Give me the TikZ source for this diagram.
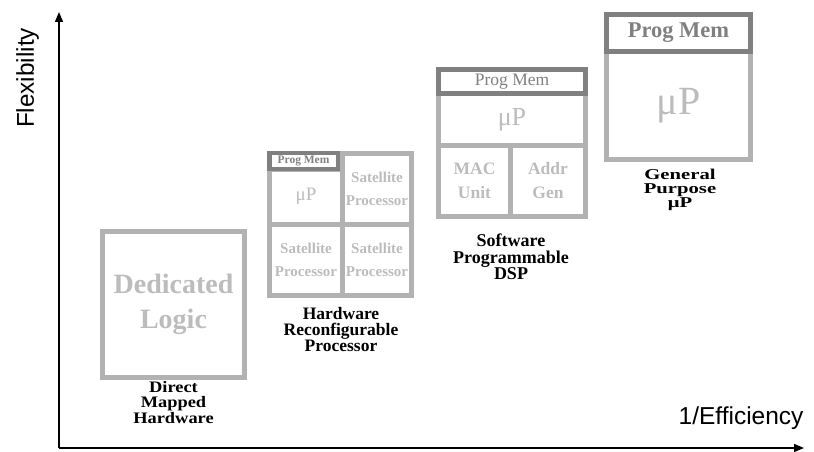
\documentclass[tikz,border=0pt]{standalone}
\usepackage{fontspec}
\setmainfont{Liberation Serif}
\newfontfamily\axisfont{Liberation Sans}
\usetikzlibrary{arrows.meta,positioning}
\definecolor{lgray}{RGB}{178,178,178}
\definecolor{tgray}{RGB}{188,188,188}
\definecolor{dgray}{RGB}{128,128,128}

\begin{document}
\begin{tikzpicture}[x=1pt,y=-1pt,>={Triangle[length=10pt,width=8pt]},
  cell/.style={draw=lgray,line width=5pt,inner sep=0pt,text=tgray,align=center},
  bar/.style={draw=dgray,line width=5pt,inner sep=0pt,text=dgray},
  lbl/.style={inner sep=0pt,align=center}]

\useasboundingbox (0,0) rectangle (814,452);

% axes
\coordinate (o) at (59,448);
\coordinate (ytip) at (59,12);
\coordinate (xtip) at (804,448);
\draw[->,line width=1.3pt] (o) -- (ytip);
\draw[->,line width=1.3pt] (o) -- (xtip);
\node[rotate=90,anchor=base,font=\axisfont\fontsize{24.3}{28}\selectfont] (flex) at (34,78) {Flexibility};
\node[anchor=base east,font=\axisfont\fontsize{24.5}{28}\selectfont] (eff) at (807,424) {1/Efficiency};

% direct mapped hardware
\node[cell,minimum width=142pt,minimum height=146pt,font=\bfseries\fontsize{28}{35}\selectfont] (dl) at (173.5,304.5) {Dedicated\\Logic};
\node[lbl,below=1pt of dl,font=\bfseries\fontsize{16}{15.5}\selectfont\addfontfeatures{FakeStretch=1.15}] (dlt) {Direct\\Mapped\\Hardware};

% hardware reconfigurable processor
\node[cell,minimum width=69pt,minimum height=71pt,font=\bfseries\fontsize{15}{23}\selectfont] (s1) at (377,189) {Satellite\\Processor};
\node[cell,minimum width=73pt,minimum height=71pt,font=\bfseries\fontsize{15}{23}\selectfont] (s2) at (306,260) {Satellite\\Processor};
\node[cell,minimum width=69pt,minimum height=71pt,font=\bfseries\fontsize{15}{23}\selectfont] (s3) at (377,260) {Satellite\\Processor};
\node[cell,minimum width=73pt,minimum height=55.5pt,font=\fontsize{19}{21}\selectfont] (up1) at (306,196.75) {μP};
\node[bar,line width=4.5pt,minimum width=68.5pt,minimum height=15.75pt,font=\bfseries\fontsize{11.5}{12}\selectfont] (pm1) at (303.5,161.1) {Prog Mem};
\node[lbl,anchor=north,font=\bfseries\fontsize{17.5}{16}\selectfont] (hwl) at (341,307) {Hardware\\Reconfigurable\\Processor};

% software programmable dsp
\node[cell,minimum width=72pt,minimum height=71pt,font=\bfseries\fontsize{17.5}{24}\selectfont] (mac) at (474.5,181) {MAC\\Unit};
\node[cell,minimum width=75pt,minimum height=71pt,font=\bfseries\fontsize{17.5}{24}\selectfont] (ag) at (548,181) {Addr\\Gen};
\node[cell,minimum width=147pt,minimum height=51.75pt,font=\fontsize{26}{30}\selectfont] (up2) at (512,119.6) {μP};
\node[bar,line width=4.75pt,minimum width=147pt,minimum height=24.25pt,font=\fontsize{17.5}{19}\selectfont] (pm2) at (512,81.6) {Prog Mem};
\node[lbl,anchor=north,font=\bfseries\fontsize{18}{16.5}\selectfont] (dspl) at (511,234) {Software\\Programmable\\DSP};

% general purpose
\node[cell,minimum width=144pt,minimum height=108pt,font=\fontsize{40}{44}\selectfont] (up3) at (678.5,105.5) {μP};
\node[bar,minimum width=144pt,minimum height=37pt,font=\bfseries\fontsize{22.5}{25}\selectfont] (pm3) at (678.5,33) {Prog Mem};
\node[lbl,anchor=north,font=\bfseries\fontsize{15}{14}\selectfont\addfontfeatures{FakeStretch=1.38}] (gpl) at (680,169) {General\\Purpose\\μP};

\end{tikzpicture}
\end{document}
